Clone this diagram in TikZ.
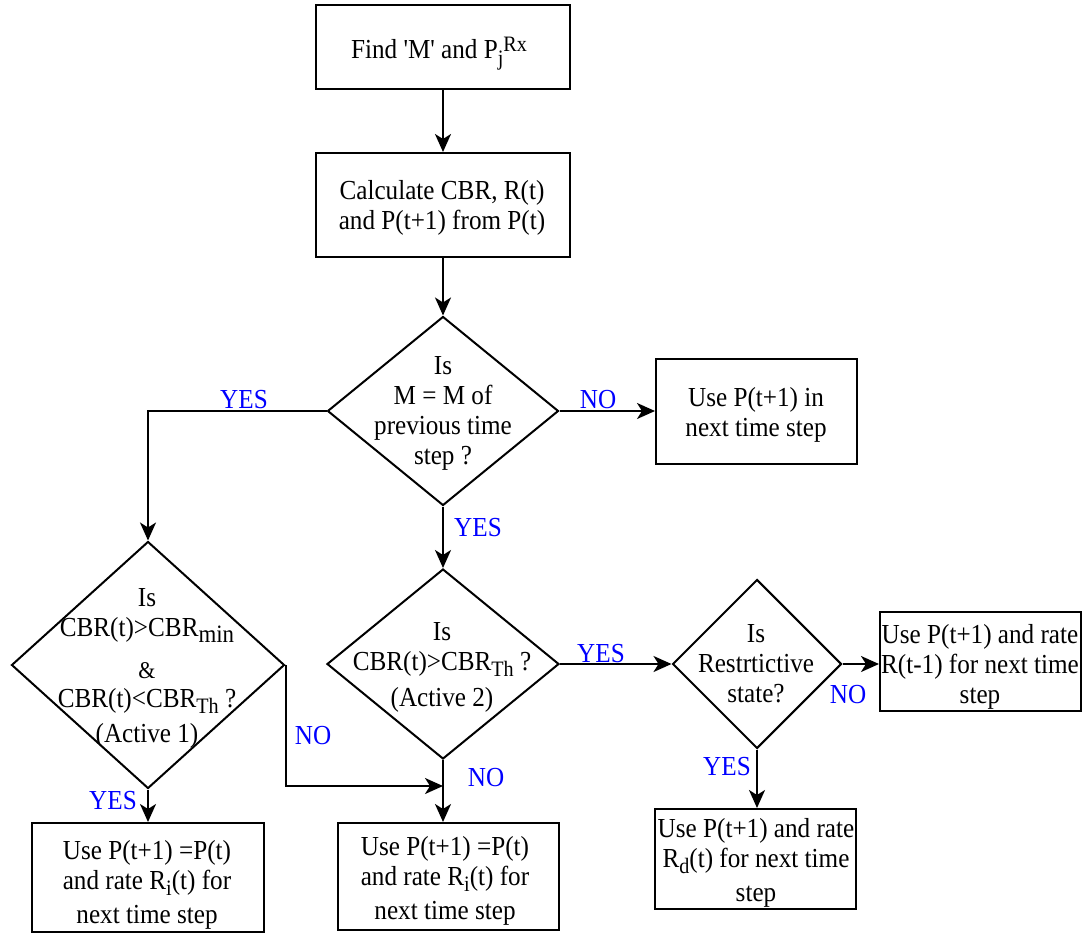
\documentclass[tikz,border=0pt]{standalone}
\usepackage{fontspec}
\setmainfont{Liberation Serif}[Ligatures=TeXOff, FakeStretch=0.915]
\usetikzlibrary{shapes.geometric,arrows.meta}
\definecolor{labelblue}{RGB}{0,0,255}
% lowered / raised indices in text
\newcommand\lowtxt[2][22]{\raisebox{-6pt}{\fontsize{#1}{#1}\selectfont #2}}
\newcommand\hightxt[1]{\raisebox{7pt}{\fontsize{22}{22}\selectfont #1}}

\begin{document}
\begin{tikzpicture}[x=1pt,y=-1pt,
  every node/.style={font=\fontsize{27.5}{30}\selectfont},
  procbox/.style={draw, line width=2pt, rectangle, inner sep=0pt},
  decision/.style={draw, line width=2pt, diamond, inner sep=0pt, aspect=1},
  txt/.style={align=center, inner sep=0pt},
  flow/.style={line width=2pt, -{Stealth[length=18pt,width=16pt,inset=5pt]}},
  tag/.style={text=labelblue, inner sep=0pt},
]
\useasboundingbox (0,0) rectangle (1086,934);

% process boxes
\node[procbox, minimum width=254pt, minimum height=83pt]  (b1) at (443,47) {};
\node[procbox, minimum width=254pt, minimum height=104pt] (b2) at (443,205) {};
\node[procbox, minimum width=201pt, minimum height=105pt] (b3) at (756.5,411.5) {};
\node[procbox, minimum width=232pt, minimum height=109pt] (b5) at (148,877.5) {};
\node[procbox, minimum width=221pt, minimum height=107pt] (b6) at (448.5,876.5) {};
\node[procbox, minimum width=201pt, minimum height=99pt]  (b7) at (980.5,661.5) {};
\node[procbox, minimum width=201pt, minimum height=100pt] (b8) at (755.5,859) {};

% decisions
\node[decision, minimum width=231pt, minimum height=189pt] (d1) at (443,411) {};
\node[decision, minimum width=273pt, minimum height=247pt] (d2) at (148,665) {};
\node[decision, minimum width=232pt, minimum height=190pt] (d3) at (443,664) {};
\node[decision, minimum width=169pt, minimum height=169pt] (d4) at (757,664) {};

% box texts
\node[txt, anchor=base] (b1t) at (439,59) {Find 'M' and P\lowtxt{j}\hightxt{Rx}};
\node[txt] (b2t) at (442,208) {Calculate CBR, R(t)\\ and P(t+1) from P(t)};
\node[txt] (b3t) at (756,414.5) {Use P(t+1) in\\ next time step};
\node[txt] (b5t) at (147,885) {Use P(t+1) =P(t)\\ and rate R\lowtxt{i}(t) for\\[4pt] next time step};
\node[txt] (b6t) at (445,880.5) {Use P(t+1) =P(t)\\ and rate R\lowtxt{i}(t) for\\[4pt] next time step};
\node[txt] (b7t) at (980,666.5) {Use P(t+1) and rate\\ R(t-1) for next time\\ step};
\node[txt] (b8t) at (756,862.5) {Use P(t+1) and rate\\ R\lowtxt{d}(t) for next time\\[4pt] step};

% decision texts
\node[txt] (d1t) at (443,413.5) {Is\\ M = M of\\ previous time\\ step ?};
\node[txt] (d2t) at (147,668.5) {Is\\ CBR(t)>CBR\lowtxt[25]{min}\\[12pt]
  {\fontsize{24}{24}\selectfont \&}\\[-1pt]
  CBR(t)<CBR\lowtxt{Th} ?\\[5pt] (Active 1)};
\node[txt] (d3t) at (442,667.5) {Is\\ CBR(t)>CBR\lowtxt{Th} ?\\[6pt] (Active 2)};
\node[txt] (d4t) at (756,663.5) {Is\\ Restrtictive\\ state?};

% connectors
\coordinate (join) at (443,786);
\draw[flow] (b1) -- (b2);
\draw[flow] (b2) -- (d1);
\draw[flow] (d1.east) -- (d1.east -| b3.west);
\draw[flow] (d1.west) -| (d2.north);
\draw[flow] (d1.south) -- (d3.north);
\draw[flow] (d2.south) -- (b5.north);
\draw[flow] (d2.east) |- (join);
\draw[flow] (d3.south) -- (d3.south |- b6.north);
\draw[flow] (d3.east) -- (d3.east -| d4.west);
\draw[flow] (d4.east) -- (d4.east -| b7.west);
\draw[flow] (d4.south) -- (d4.south |- b8.north);

% branch labels
\node[tag] (yes1) at (244,400) {YES};
\node[tag] (no1)  at (598,400) {NO};
\node[tag] (yes2) at (478,528) {YES};
\node[tag] (no2)  at (313,736) {NO};
\node[tag] (yes3) at (113,801) {YES};
\node[tag] (no3)  at (486,778) {NO};
\node[tag] (yes4) at (601,654) {YES};
\node[tag] (no4)  at (848,695) {NO};
\node[tag] (yes5) at (727,767) {YES};
\end{tikzpicture}
\end{document}
